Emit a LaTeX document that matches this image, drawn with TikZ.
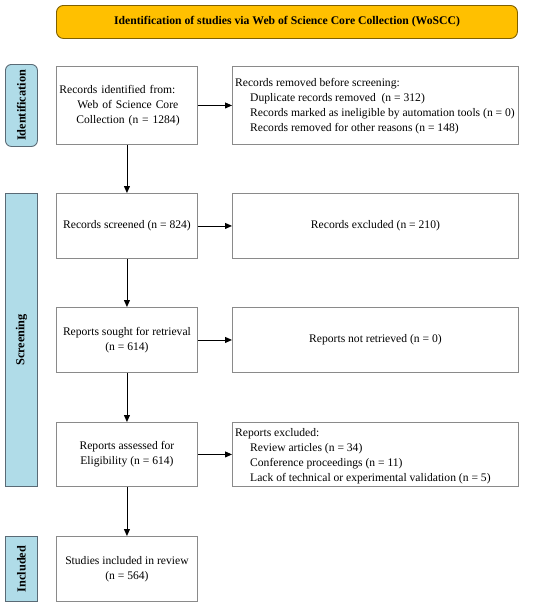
\documentclass[tikz,border=0pt]{standalone}
\usepackage{fontspec}
\setmainfont{Liberation Serif}
\usetikzlibrary{arrows.meta}
\definecolor{gold}{HTML}{FFC000}
\definecolor{goldline}{HTML}{7F6000}
\definecolor{sideblue}{HTML}{B0DCE8}
\definecolor{sideline}{HTML}{5A6A75}
\definecolor{boxline}{HTML}{8A8A8A}
\tikzset{
  box/.style={draw=boxline, line width=0.9pt, fill=white, anchor=north west,
    minimum width=141pt, inner sep=3pt, font=\fontsize{11.6}{15}\selectfont},
  wide/.style={box, minimum width=286pt},
  side/.style={draw=sideline, line width=0.9pt, fill=sideblue, anchor=north west,
    minimum width=32pt, inner sep=0pt},
  sidetext/.style={rotate=90, font=\bfseries\fontsize{12.3}{14}\selectfont},
  listtext/.style={anchor=north west, align=left, inner sep=0pt, font=\fontsize{11.6}{15}\selectfont},
  arr/.style={-{Triangle[length=7pt,width=6pt]}, line width=0.9pt, black},
}
\begin{document}
\begin{tikzpicture}[x=1pt,y=1pt]
\useasboundingbox (0,0) rectangle (550,-606);
\node[draw=goldline, line width=0.9pt, fill=gold, rounded corners=7pt, anchor=north west,
  minimum width=461pt, minimum height=33pt, font=\bfseries\fontsize{11.7}{13}\selectfont]
  (head) at (56,-5) {Identification of studies via Web of Science Core Collection (WoSCC)};
% side labels
\node[side, rounded corners=6pt, minimum height=82pt] (idlab) at (5,-64) {};
\node[sidetext] at (idlab.center) {Identification};
\node[side, minimum height=293pt] (scrlab) at (5,-193) {};
\node[sidetext] at (scrlab.center) {Screening};
\node[side, minimum height=65pt] (inclab) at (5,-536) {};
\node[sidetext] at (inclab.center) {Included};
% left column
\node[box, minimum height=78pt, text width=135pt, align=left] (b1) at (56,-66)
  {Records identified from:\\\hspace*{18pt}Web of Science Core\\\hspace*{17pt}Collection (n = 1284)};
\node[box, minimum height=65pt] (b2) at (56,-193) {Records screened (n = 824)};
\node[box, minimum height=65pt, align=center] (b3) at (56,-307) {Reports sought for retrieval\\(n = 614)};
\node[box, minimum height=64pt, align=center] (b4) at (56,-422) {Reports assessed for\\Eligibility (n = 614)};
\node[box, minimum height=65pt, align=center] (b5) at (56,-536) {Studies included in review\\(n = 564)};
% right column
\node[wide, minimum height=78pt] (r1) at (232,-66) {};
\node[listtext] at (235,-78)
  {Records removed before screening:\\
   \hspace*{15pt}Duplicate records removed\ \ (n = 312)\\
   \hspace*{15pt}Records marked as ineligible by automation tools (n = 0)\\
   \hspace*{15pt}Records removed for other reasons (n = 148)};
\node[wide, minimum height=65pt] (r2) at (232,-193) {Records excluded (n = 210)};
\node[wide, minimum height=65pt] (r3) at (232,-307) {Reports not retrieved (n = 0)};
\node[wide, minimum height=64pt] (r4) at (232,-422) {};
\node[listtext] at (235,-428)
  {Reports excluded:\\
   \hspace*{15pt}Review articles (n = 34)\\
   \hspace*{15pt}Conference proceedings (n = 11)\\
   \hspace*{15pt}Lack of technical or experimental validation (n = 5)};
% arrows
\draw[arr] (b1) -- (r1);
\draw[arr] (b2) -- (r2);
\draw[arr] (b3) -- (r3);
\draw[arr] (b4) -- (r4);
\draw[arr] (b1) -- (b2);
\draw[arr] (b2) -- (b3);
\draw[arr] (b3) -- (b4);
\draw[arr] (b4) -- (b5);
\end{tikzpicture}
\end{document}
